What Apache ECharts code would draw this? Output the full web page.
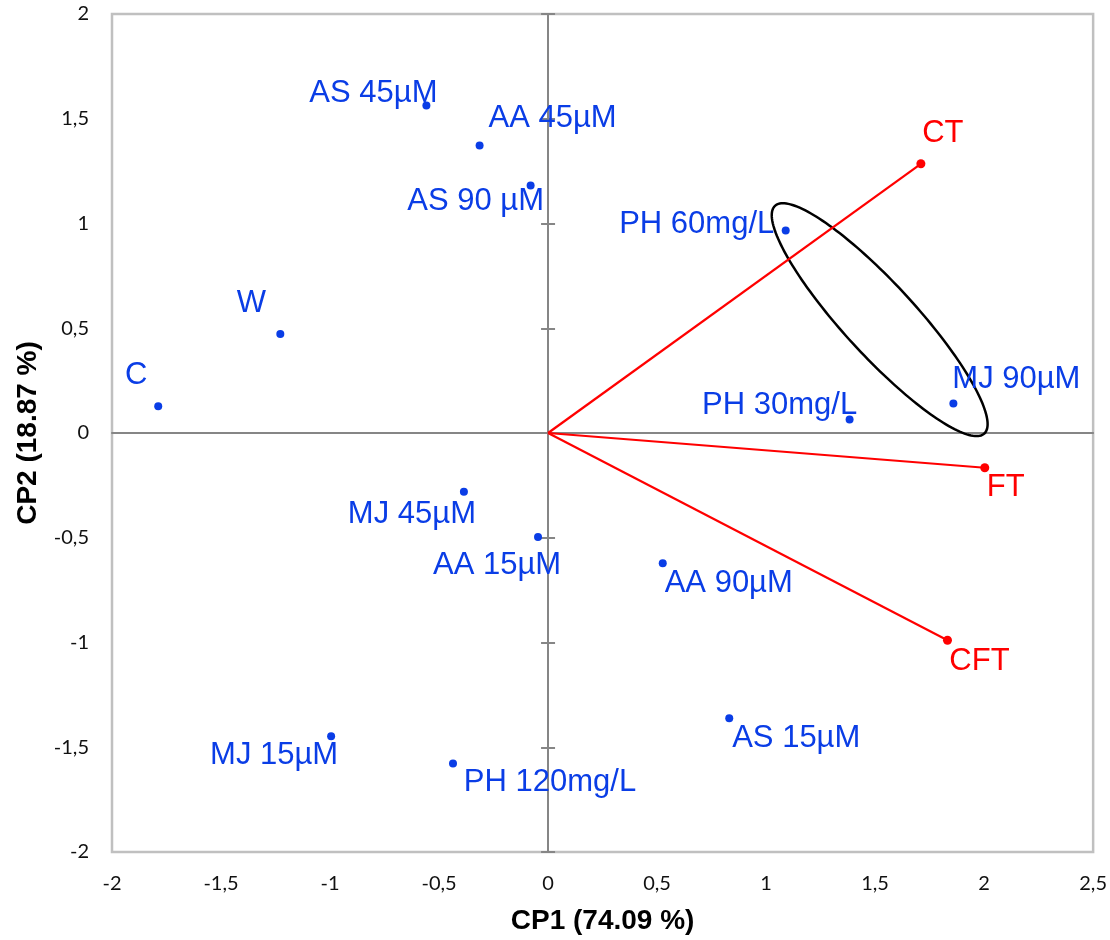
<!DOCTYPE html>
<html>
<head>
<meta charset="utf-8">
<script src="https://cdn.jsdelivr.net/npm/echarts@6/dist/echarts.min.js"></script>
<style>
  html, body { margin: 0; padding: 0; background: #ffffff; }
  #chart { width: 1110px; height: 940px; }
</style>
</head>
<body>
<div id="chart"></div>
<script>
// ---- Data ----
const observations = ['AS 45µM', 'AA 45µM', 'AS 90 µM', 'PH 60mg/L', 'W', 'C', 'MJ 90µM', 'PH 30mg/L',
                      'MJ 45µM', 'AA 15µM', 'AA 90µM', 'AS 15µM', 'MJ 15µM', 'PH 120mg/L'];
const obsCP1 = [-0.558, -0.314, -0.080, 1.090, -1.228, -1.788, 1.859, 1.383,
                -0.386, -0.046, 0.526, 0.831, -0.995, -0.436];
const obsCP2 = [1.563, 1.372, 1.181, 0.967, 0.473, 0.128, 0.141, 0.064,
                -0.280, -0.497, -0.622, -1.361, -1.448, -1.577];

const variables = ['CT', 'FT', 'CFT'];
const varCP1 = [1.710, 2.003, 1.832];
const varCP2 = [1.285, -0.166, -0.989];

// Ellipse annotation: centre, semi-major vector, semi-minor vector (data units)
const ellipseCentre = [1.521, 0.541];
const ellipseMajor = [0.480, -0.5435];
const ellipseMinor = [0.121, 0.116];

const xTickLabels = ['-2', '-1,5', '-1', '-0,5', '0', '0,5', '1', '1,5', '2', '2,5'];
const yTickLabels = ['-2', '-1,5', '-1', '-0,5', '0', '0,5', '1', '1,5', '2'];

// ---- Layout (label placement in pixels, relative to the point) ----
const obsLabelOffsets = [[-53, -12], [73, -27], [-55, 16], [-89, -6], [-29, -30], [-22, -31],
                         [63, -24], [-70, -14], [-52, 23], [-41, 28], [66, 20], [67, 20],
                         [-57, 19], [97, 19]];
const varLabelOffsets = [[22, -30], [21, 20], [32, 21]];

const BLUE = '#0a3de6';
const RED = '#ff0000';
const X_MIN = -2, X_MAX = 2.5, Y_MIN = -2, Y_MAX = 2, STEP = 0.5;

const chart = echarts.init(document.getElementById('chart'), null, { renderer: 'canvas' });

const obsData = observations.map((n, i) => ({
  name: n,
  value: [obsCP1[i], obsCP2[i]],
  label: { offset: obsLabelOffsets[i] }
}));
const varData = variables.map((n, i) => ({
  name: n,
  value: [varCP1[i], varCP2[i]],
  label: { offset: varLabelOffsets[i] }
}));
const vectorData = variables.map((n, i) => ({ coords: [[0, 0], [varCP1[i], varCP2[i]]] }));

const option = {
  animation: false,
  backgroundColor: '#ffffff',
  grid: {
    left: 112, top: 14, width: 984, height: 839,
    show: true, borderColor: '#c0c0c0', borderWidth: 2.5, backgroundColor: 'transparent'
  },
  xAxis: [
    {
      type: 'value', min: X_MIN, max: X_MAX, interval: STEP, position: 'bottom',
      axisLine: { show: false, onZero: false },
      axisTick: { show: false },
      splitLine: { show: false },
      axisLabel: {
        margin: 22, fontSize: 20, color: '#111111', fontFamily: 'Lato',
        formatter: v => xTickLabels[Math.round((v - X_MIN) / STEP)]
      },
      name: 'CP1 (74.09 %)', nameLocation: 'middle', nameGap: 55,
      nameTextStyle: { fontSize: 28, fontWeight: 'bold', color: '#000', fontFamily: 'Liberation Sans' }
    },
    {
      type: 'value', min: X_MIN, max: X_MAX, interval: STEP, position: 'bottom',
      axisLine: { show: true, onZero: true, onZeroAxisIndex: 0, lineStyle: { color: '#868686', width: 2 } },
      axisTick: { show: false }, axisLabel: { show: false }, splitLine: { show: false }
    }
  ],
  yAxis: [
    {
      type: 'value', min: Y_MIN, max: Y_MAX, interval: STEP, position: 'left',
      axisLine: { show: false, onZero: false },
      axisTick: { show: false },
      splitLine: { show: false },
      axisLabel: {
        margin: 23, fontSize: 20, color: '#111111', fontFamily: 'Lato',
        formatter: v => yTickLabels[Math.round((v - Y_MIN) / STEP)]
      },
      name: 'CP2 (18.87 %)', nameLocation: 'middle', nameGap: 70, nameRotate: 90,
      nameTextStyle: { fontSize: 28, fontWeight: 'bold', color: '#000', fontFamily: 'Liberation Sans' }
    },
    {
      type: 'value', min: Y_MIN, max: Y_MAX, interval: STEP, position: 'left',
      axisLine: { show: true, onZero: true, onZeroAxisIndex: 0, lineStyle: { color: '#868686', width: 2 } },
      axisTick: { show: true, inside: false, length: 7, lineStyle: { color: '#868686', width: 2 } },
      axisLabel: { show: false }, splitLine: { show: false }
    },
    {
      type: 'value', min: Y_MIN, max: Y_MAX, interval: STEP, position: 'left',
      axisLine: { show: true, onZero: true, onZeroAxisIndex: 0, lineStyle: { color: '#868686', width: 2 } },
      axisTick: { show: true, inside: true, length: 7, lineStyle: { color: '#868686', width: 2 } },
      axisLabel: { show: false }, splitLine: { show: false }
    }
  ],
  series: [
    {
      type: 'custom',
      name: 'ellipse',
      silent: true,
      clip: false,
      z: 2,
      data: [[ellipseCentre[0], ellipseCentre[1], ellipseMajor[0], ellipseMajor[1], ellipseMinor[0], ellipseMinor[1]]],
      encode: { x: 0, y: 1 },
      renderItem: function (params, api) {
        const cx = api.value(0), cy = api.value(1);
        const ax = api.value(2), ay = api.value(3), bx = api.value(4), by = api.value(5);
        const pts = [];
        const N = 180;
        for (let k = 0; k < N; k++) {
          const t = 2 * Math.PI * k / N;
          pts.push(api.coord([cx + Math.cos(t) * ax + Math.sin(t) * bx,
                              cy + Math.cos(t) * ay + Math.sin(t) * by]));
        }
        return {
          type: 'polygon',
          shape: { points: pts },
          style: { fill: 'none', stroke: '#000000', lineWidth: 2.5 }
        };
      }
    },
    {
      type: 'lines',
      name: 'vectors',
      coordinateSystem: 'cartesian2d',
      silent: true,
      z: 3,
      lineStyle: { color: RED, width: 2.2, opacity: 1 },
      data: vectorData
    },
    {
      type: 'scatter',
      name: 'variables',
      z: 4,
      symbol: 'circle',
      symbolSize: 9,
      itemStyle: { color: RED, opacity: 1 },
      label: {
        show: true, position: 'inside', formatter: '{b}',
        fontSize: 31, fontFamily: 'Liberation Sans', color: RED,
        align: 'center', verticalAlign: 'middle'
      },
      data: varData
    },
    {
      type: 'scatter',
      name: 'observations',
      z: 5,
      symbol: 'circle',
      symbolSize: 8,
      itemStyle: { color: BLUE, opacity: 1 },
      label: {
        show: true, position: 'inside', formatter: '{b}',
        fontSize: 31, fontFamily: 'Liberation Sans', color: BLUE,
        align: 'center', verticalAlign: 'middle'
      },
      data: obsData
    }
  ]
};

chart.setOption(option);
</script>
</body>
</html>
